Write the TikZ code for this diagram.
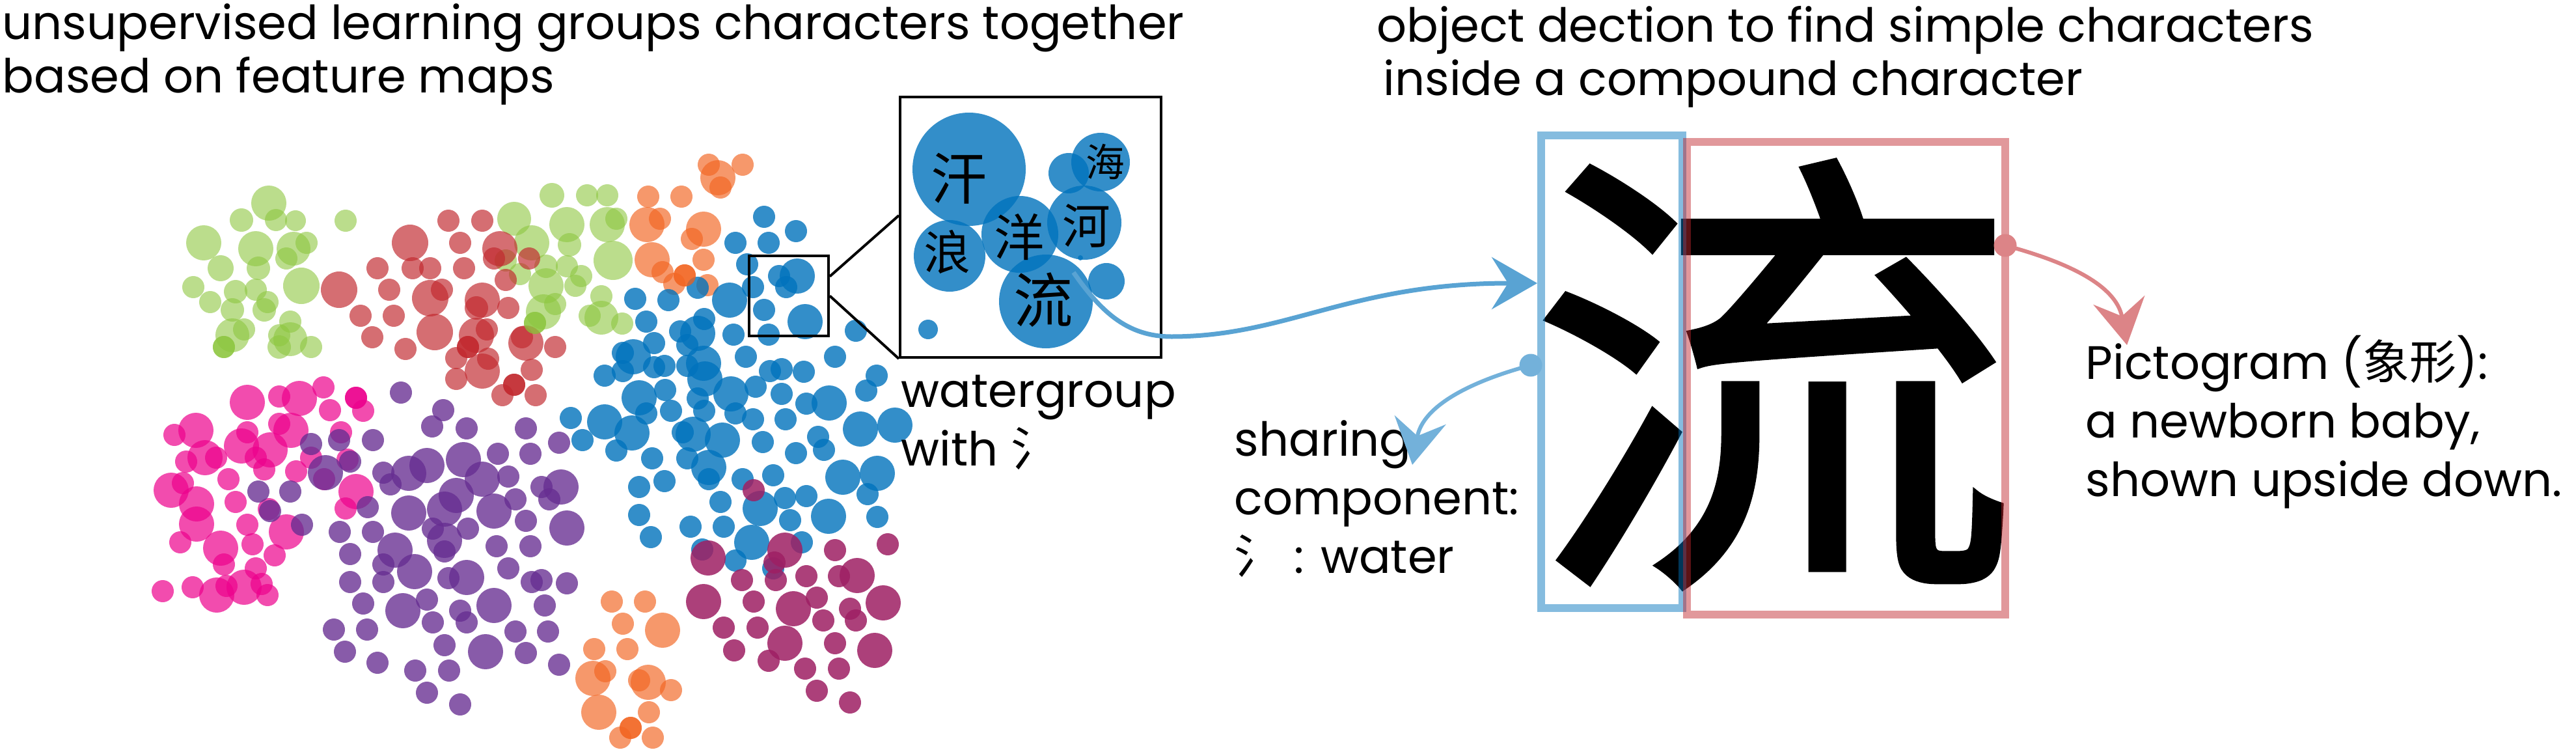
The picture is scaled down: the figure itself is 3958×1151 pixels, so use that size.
\documentclass[tikz,border=0pt]{standalone}
\usepackage{fontspec}
\setmainfont{Poppins}
\newfontfamily\cjk{Noto Sans CJK SC}
\newfontfamily\cjkbig{Noto Sans CJK SC}[FakeStretch=1.055,FakeBold=1]
\usetikzlibrary{arrows.meta,positioning}

\definecolor{grpgreen}{RGB}{141,198,63}
\definecolor{grpred}{RGB}{193,39,45}
\definecolor{grporange}{RGB}{242,101,34}
\definecolor{grppink}{RGB}{236,0,140}
\definecolor{grppurple}{RGB}{102,45,145}
\definecolor{grpblue}{RGB}{0,114,188}
\definecolor{grpmagenta}{RGB}{158,31,99}

\tikzset{
  bubble/.style 2 args={fill=#1,fill opacity=#2},
  note/.style={anchor=base west,align=left,inner sep=0pt,
    font=\fontsize{20.5}{25.5}\selectfont},
  heading/.style={note,font=\fontsize{20.5}{23.5}\selectfont},
  hanzi/.style={inner sep=0pt,font=\cjk\fontsize{#1}{#1}\selectfont},
  boxline/.style={draw,line width=0.4mm,inner sep=0pt},
  cutbox/.style={draw=#1,draw opacity=.48,line width=1.2mm,inner sep=0pt,minimum height=72.6mm},
  pointer/.style={line width=0.6mm,-{Stealth[length=7mm,width=8mm,inset=2.5mm]}},
  handle/.style={circle,fill=#1,inner sep=0pt,minimum size=3.5mm},
}

\begin{document}
\begin{tikzpicture}[x=0.1mm,y=-0.1mm]
\useasboundingbox (0,0) rectangle (3958,1151);

% feature map clusters
\foreach \x/\y/\r in {413/312/27,371/338/18,424/338/17,454/339/16,531/339/17,313/373/27,393/382/27,451/382/26,471/373/17,339/412/20,397/412/18,440/397/17,463/439/28,297/441/17,323/464/17,362/448/18,393/445/17,357/476/18,411/464/17,406/476/18,446/494/17,357/515/26,375/506/17,344/533/17,429/533/18,446/521/26,478/533/17,429/515/17,
  790/336/26,848/300/19,902/300/17,933/300/17,871/345/27,933/345/27,947/336/17,817/373/27,875/376/18,942/400/30,777/400/17,839/409/18,871/409/17,799/421/17,839/439/27,893/424/17,884/439/17,853/467/17,835/479/27,822/496/17,924/455/17,906/485/17,924/488/26,956/497/17}
  \fill[bubble={grpgreen}{.6}] (\x,\y) circle[radius=\r];
\foreach \x/\y/\r in {630/373/28,689/339/17,741/339/17,707/373/17,768/382/27,580/412/17,634/412/17,661/412/17,713/412/17,759/397/17,813/397/17,521/445/28,598/445/17,661/458/28,679/445/17,741/461/27,732/473/18,781/473/17,777/430/17,554/485/17,605/485/17,668/510/28,572/518/17,623/536/17,732/515/27,748/506/17,719/533/17,802/518/17,808/527/27,853/533/17,701/550/17,741/570/27,750/551/17,701/582/17,817/568/17,790/591/17,772/607/17,823/607/17}
  \fill[bubble={grpred}{.67}] (\x,\y) circle[radius=\r];
\foreach \x/\y/\r in {1089/253/17,1103/273/27,1107/288/17,1141/253/17,996/302/17,1047/302/17,994/345/27,1014/336/17,1081/352/27,1063/367/17,1002/399/27,1081/399/17,1052/423/17,1018/418/17,1036/436/17,1087/438/17,
  940/924/17,991/924/17,957/958/17,1018/968/27,913/997/17,964/997/17,911/1042/27,930/1031/17,996/1048/27,982/1045/17,1031/1060/17,920/1094/27,997/1094/17,969/1118/17,953/1133/17,1003/1133/17}
  \fill[bubble={grporange}{.67}] (\x,\y) circle[radius=\r];
\foreach \x/\y/\r in {380/618/27,429/609/17,460/612/27,497/595/17,547/611/17,507/630/17,558/631/17,268/668/17,301/661/27,380/664/17,429/651/17,447/661/27,524/664/17,315/703/27,286/709/17,332/703/17,371/685/27,415/691/27,393/703/17,478/703/17,455/724/17,534/706/17,263/753/27,281/742/17,351/736/17,406/721/17,302/774/27,362/771/17,498/736/17,547/755/27,531/781/17,413/782/17,302/805/27,380/806/17,440/817/27,277/833/17,339/842/27,388/836/17,422/853/17,344/867/17,393/873/17,250/908/17,296/902/17,333/914/27,375/902/27,348/900/17,402/897/17,411/914/17}
  \fill[bubble={grppink}{.7}] (\x,\y) circle[radius=\r];
\foreach \x/\y/\r in {616/603/17,681/630/17,664/655/17,717/658/17,808/658/17,573/676/17,478/682/17,521/676/17,859/680/17,656/715/27,712/706/27,765/697/17,815/697/17,538/709/17,500/726/27,589/726/17,628/727/27,741/736/27,781/732/17,446/755/17,397/755/17,600/744/17,701/761/27,832/748/17,862/748/27,792/767/17,565/779/17,628/788/27,683/782/27,759/785/27,844/767/17,415/785/17,464/806/17,808/800/17,871/811/27,522/817/17,573/817/17,665/812/17,719/812/17,683/830/27,607/845/27,763/839/17,815/839/17,538/851/17,683/847/17,589/867/17,637/878/27,717/887/27,781/873/17,538/894/17,589/894/17,689/888/17,817/894/17,832/891/17,871/896/17,558/927/17,619/938/27,656/921/17,759/930/27,707/938/17,837/930/17,513/967/17,564/967/17,665/956/17,717/956/17,792/970/17,842/970/17,530/1001/17,683/991/17,746/1001/27,808/1003/17,580/1018/17,638/1030/17,690/1030/17,859/1021/17,656/1064/17,707/1082/17}
  \fill[bubble={grppurple}{.78}] (\x,\y) circle[radius=\r];
\foreach \x/\y/\r in {1174/333/17,1223/355/17,1130/373/17,1181/373/17,1148/406/17,1197/424/17,1225/424/27,1208/441/17,1157/441/17,1121/461/27,1174/476/17,1237/494/27,1181/514/17,1127/514/17,1072/442/17,1027/461/17,976/459/17,993/494/17,1082/490/17,1072/512/27,1045/509/17,1056/530/17,1005/527/17,957/542/17,973/548/27,929/577/17,957/570/17,1005/564/17,1021/562/17,1056/562/17,1081/558/27,1083/582/27,1146/548/17,1183/570/17,1201/567/17,1235/571/17,1283/548/17,1315/508/17,1347/577/17,1331/600/17,1375/653/27,1322/659/27,1274/619/27,1239/620/17,1201/605/17,1161/594/17,1123/605/27,1130/635/17,1157/644/17,1207/644/17,1082/631/17,1072/612/17,1031/631/17,1022/599/17,982/611/27,993/635/17,929/648/27,877/642/17,895/676/17,971/665/27,947/692/17,1002/704/17,1049/664/17,1065/667/27,1110/676/27,1172/679/17,1223/696/17,1257/671/17,1266/691/17,1056/704/17,1089/718/27,1089/736/17,1021/739/17,982/748/17,1141/736/17,1188/730/17,1295/733/27,1348/727/27,1107/771/17,1168/781/27,1206/765/17,1239/762/17,1273/793/27,1333/759/17,982/791/17,1000/825/17,1061/809/17,1112/809/17,1214/799/17,1348/794/17,1155/833/27,1232/833/17,1079/844/17,1130/861/17,1188/873/17}
  \fill[bubble={grpblue}{.8}] (\x,\y) circle[radius=\r];
\foreach \x/\y/\r in {1158/753/17,1088/857/27,1206/845/27,1190/864/17,1283/845/17,1364/836/17,1140/891/17,1192/891/17,1239/885/17,1289/885/17,1317/884/27,1081/924/27,1158/924/17,1219/935/27,1255/918/17,1306/935/17,1357/926/27,1112/964/17,1164/964/17,1265/953/17,1315/953/17,1206/988/27,1128/999/17,1283/988/17,1344/999/27,1181/1015/17,1237/1027/17,1289/1027/17,1255/1061/17,1306/1079/17}
  \fill[bubble={grpmagenta}{.85}] (\x,\y) circle[radius=\r];
% darker cores
\foreach \c/\x/\y in {grpgreen/344/533,grpgreen/822/496,grpred/719/533,grpred/790/591,grporange/1052/423,grporange/969/1118,grppink/547/611}
  \fill[bubble={\c}{.75}] (\x,\y) circle[radius=17];

% zoom into the water group
\node[boxline,minimum width=12.2mm,minimum height=12.3mm] (zoombox) at (1212,454.5) {};
\node[boxline,minimum width=40.1mm,minimum height=40mm] (inset) at (1583.5,349) {};
\draw[line width=0.4mm] ([yshift=3mm]zoombox.east) -- ([yshift=-18.4mm]inset.north west);
\draw[line width=0.4mm] (zoombox.east) -- (inset.south west);
\foreach \x/\y/\r in {1489/260/87,1642/266/31,1691/249/45,1666/342/57,1567/360/59,1459/393/55,1607/463/72,1700/432/28,1426/506/15,1660/396/4}
  \fill[bubble={grpblue}{.8}] (\x,\y) circle[radius=\r];
\node[hanzi=24.5] (han) at (1474,274) {汗};
\node[hanzi=17] (hai) at (1698,249) {海};
\node[hanzi=21] (he) at (1669,347) {河};
\node[hanzi=22] (yang) at (1566,364) {洋};
\node[hanzi=20.5] (lang) at (1456,387) {浪};
\node[hanzi=26] (liuS) at (1603,461) {流};

% texts
\node[heading] (mapTitle) at (3,143) {unsupervised learning groups characters together\\based on feature maps};
\node[heading] (detTitle) at (2115,147) {object dection to find simple characters\\\hspace*{1mm}inside a compound character};
\node[note] (waterLabel) at (1384,715) {watergroup\\with {\cjk 氵}};

% compound character and its parts
\node[inner sep=0pt,font=\cjkbig\fontsize{204}{204}\selectfont] (liuBig) at (2724,575) {流};
\node[cutbox=grpblue,minimum width=21.7mm] (radicalBox) at (2476.5,571) {};
\node[cutbox=grpred,minimum width=48.9mm] (phoneticBox) at (2836.5,581) {};

\coordinate (arrowDip) at (1800,517);
\draw[pointer,grpblue!65,line width=0.7mm] (liuS.north east) to[out=-55,in=180] (arrowDip)
  to[out=0,in=180,out looseness=0.8,in looseness=1.3] ([yshift=13.6mm]radicalBox.west);

\node[handle=grpblue!55] (shareDot) at (2352,561) {};
\node[note] (shareLabel) at (1896,880) {sharing\\component:\\{\cjk 氵} : water};
\coordinate (shareTip) at (2170,714);
\draw[pointer,grpblue!55] (shareDot.center) to[out=195,in=80] (shareTip);

\node[handle=grpred!57] (pictoDot) at (3081,377) {};
\node[note] (pictoLabel) at (3204,762) {Pictogram ({\cjk 象形}):\\a newborn baby,\\shown upside down.};
\coordinate (pictoTip) at (3268,530);
\draw[pointer,grpred!57] (pictoDot.center) to[out=-15,in=100] (pictoTip);
\end{tikzpicture}
\end{document}
